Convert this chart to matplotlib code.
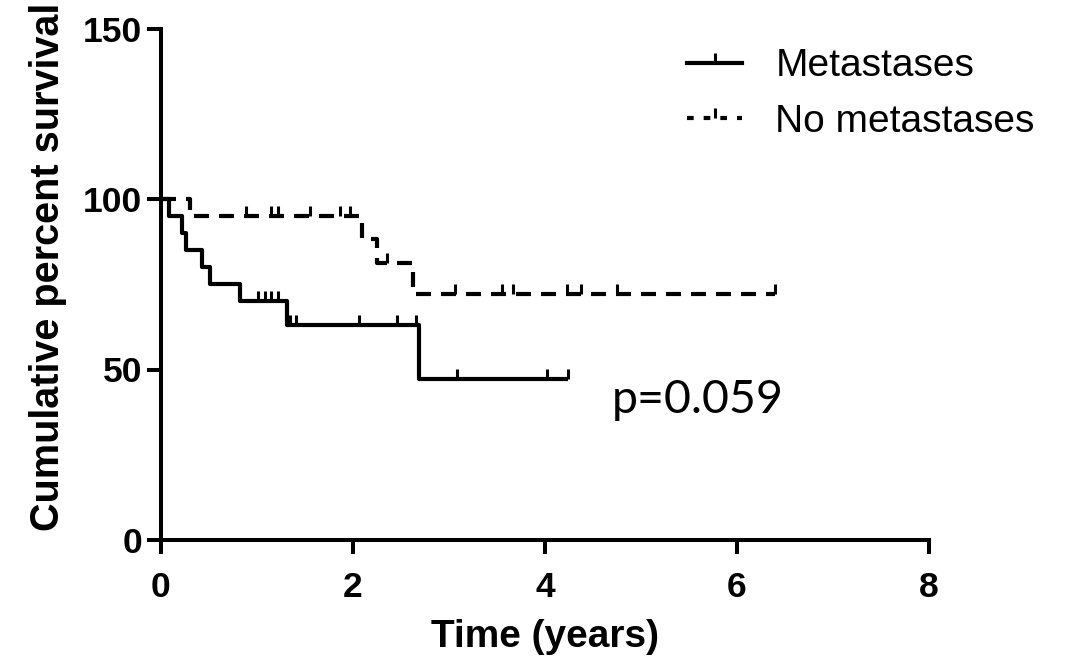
import matplotlib
matplotlib.use("Agg")
import matplotlib.pyplot as plt
from matplotlib.lines import Line2D

# ---- data ----
met_times = [0.0, 0.08, 0.22, 0.26, 0.43, 0.51, 0.82, 1.31, 2.69, 4.24]
met_surv = [100, 95, 90, 85, 80, 75, 70, 63, 47.25, 47.25]
met_cens_t = [1.01, 1.08, 1.15, 1.22, 1.34, 1.41, 2.06, 2.46, 2.66, 3.08, 4.02, 4.24]
met_cens_s = [70, 70, 70, 70, 63, 63, 63, 63, 63, 47.25, 47.25, 47.25]

nomet_times = [0.0, 0.30, 2.09, 2.25, 2.63, 6.40]
nomet_surv = [100, 95, 88.3, 81.2, 72.2, 72.2]
nomet_cens_t = [0.89, 1.15, 1.22, 1.55, 1.86, 1.97, 2.35, 3.06, 3.55, 3.67, 4.23, 4.38, 4.75, 6.40]
nomet_cens_s = [95, 95, 95, 95, 95, 95, 81.2, 72.2, 72.2, 72.2, 72.2, 72.2, 72.2, 72.2]

labels = ["Metastases", "No metastases"]
x_ticks = [0, 2, 4, 6, 8]
y_ticks = [0, 50, 100, 150]
p_text = "p=0.059"

plt.rcParams['font.family'] = ['Liberation Sans', 'DejaVu Sans']

fig = plt.figure(figsize=(10.71, 6.63), dpi=100)
ax = fig.add_axes([161/1071, 1-540/663, (929-161)/1071, (540-28.5)/663])

lw = 3
dash = (0, (3.6, 2.4))
ax.plot(met_times, met_surv, drawstyle='steps-post', color='black', lw=lw,
        solid_capstyle='butt', clip_on=False)
ax.plot(met_cens_t, met_cens_s, linestyle='none', marker=2, markersize=7.5,
        mew=2.2, color='black', clip_on=False)
ax.plot(nomet_times, nomet_surv, drawstyle='steps-post', color='black', lw=lw,
        linestyle=dash, dash_capstyle='butt', clip_on=False)
ax.plot(nomet_cens_t, nomet_cens_s, linestyle='none', marker=2, markersize=7.5,
        mew=2.2, color='black', clip_on=False)

ax.set_xlim(0, 8)
ax.set_ylim(0, 150)
ax.set_xticks(x_ticks)
ax.set_yticks(y_ticks)
for s in ['top', 'right']:
    ax.spines[s].set_visible(False)
for s in ['left', 'bottom']:
    ax.spines[s].set_linewidth(2.9)
ax.tick_params(direction='out', length=10, width=2.9, labelsize=25.5)
ax.tick_params(axis='y', pad=3.5)
ax.tick_params(axis='x', pad=12)
for lab in ax.get_xticklabels() + ax.get_yticklabels():
    lab.set_fontweight('bold')

ax.set_xlabel("Time (years)", fontsize=28, fontweight='bold', labelpad=11)
ax.set_ylabel("Cumulative percent survival", fontsize=28.5, fontweight='bold')
ax.yaxis.set_label_coords(-0.123, 0.534)

ax.text(612/1071, 1-413/663, p_text, transform=fig.transFigure, fontsize=33.5,
        family=['Lato', 'DejaVu Sans'], ha='left', va='baseline')

handles = [
    Line2D([], [], color='black', lw=lw, marker=2, markersize=7.5, mew=2.2),
    Line2D([], [], color='black', lw=lw, linestyle=(0, (1.6, 2.4)), marker=2,
           markersize=7.5, mew=2.2),
]
fig.legend(handles, labels, loc='center left',
           bbox_to_anchor=(687/1071, 1-94/663), frameon=False,
           fontsize=28, handlelength=1.42, handletextpad=0.85,
           borderpad=0, borderaxespad=0, labelspacing=0.5, numpoints=1)

fig.savefig("out.png", dpi=100)
